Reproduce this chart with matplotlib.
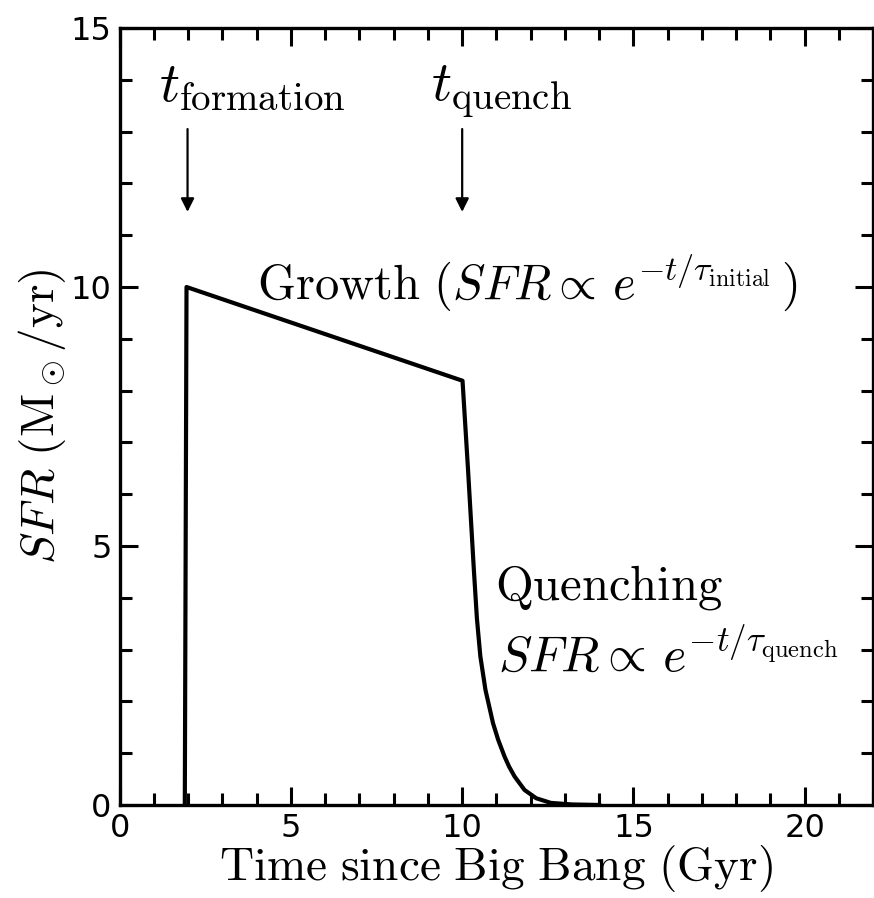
import matplotlib
matplotlib.use("Agg")
import matplotlib.pyplot as plt
from matplotlib.ticker import MultipleLocator

plt.rcParams["mathtext.fontset"] = "cm"
plt.rcParams["font.family"] = ["DejaVu Sans"]

# Star formation history
time_gyr = [1.90, 1.95, 10.01,
            10.17, 10.34, 10.43, 10.53, 10.68, 10.90, 11.05, 11.24,
            11.37, 11.53, 11.82, 12.16, 12.59, 13.20, 14.00]
sfr = [0.0, 10.0, 8.19,
       6.48, 4.55, 3.60, 2.87, 2.22, 1.58, 1.26, 0.93,
       0.74, 0.55, 0.29, 0.13, 0.04, 0.01, 0.0]

t_formation = 1.98
t_quench = 10.0

x_ticks = [0, 5, 10, 15, 20]
y_ticks = [0, 5, 10, 15]

fig = plt.figure(figsize=(8.74, 8.98), dpi=100)
ax = fig.add_axes([0.137, 0.1036, 0.862, 0.8652])

ax.plot(time_gyr, sfr, color="black", lw=3.0, solid_joinstyle="round")

ax.set_xlim(0, 22)
ax.set_ylim(0, 15)
ax.set_xticks(x_ticks)
ax.set_yticks(y_ticks)
ax.xaxis.set_minor_locator(MultipleLocator(1))
ax.yaxis.set_minor_locator(MultipleLocator(1))
ax.tick_params(which="both", direction="in", top=True, right=True, width=2.2,
               labelsize=23)
ax.tick_params(which="major", length=13)
ax.tick_params(which="minor", length=8.5)
ax.tick_params(axis="x", pad=6)
ax.tick_params(axis="y", pad=6)
for sp in ax.spines.values():
    sp.set_linewidth(2.4)

ax.set_xlabel(r"$\mathrm{Time\ since\ Big\ Bang\ (Gyr)}$", fontsize=34, labelpad=-1)
ax.set_ylabel(r"$SFR\ (\mathrm{M}_\odot/\mathrm{yr})$", fontsize=34, labelpad=2)

# Event markers
ax.text(1.16, 13.6, r"$t_{\mathrm{formation}}$", fontsize=40, ha="left", va="baseline")
ax.text(9.1, 13.6, r"$t_{\mathrm{quench}}$", fontsize=40, ha="left", va="baseline")
for tx in (t_formation, t_quench):
    ax.annotate("", xy=(tx, 11.45), xytext=(tx, 13.05),
                arrowprops=dict(arrowstyle="-|>", color="black", lw=1.6,
                                mutation_scale=20, shrinkA=0, shrinkB=0))

ax.text(4.01, 9.77,
        r"$\mathrm{Growth}\ (SFR \propto\, e^{-t/\tau_{\mathrm{initial}}}\,)$",
        fontsize=35, ha="left", va="baseline")
ax.text(10.96, 3.97, r"$\mathrm{Quenching}$", fontsize=35, ha="left", va="baseline")
ax.text(11.05, 2.57, r"$SFR \propto\, e^{-t/\tau_{\mathrm{quench}}}$",
        fontsize=36, ha="left", va="baseline")

fig.savefig("out.png", dpi=100)
